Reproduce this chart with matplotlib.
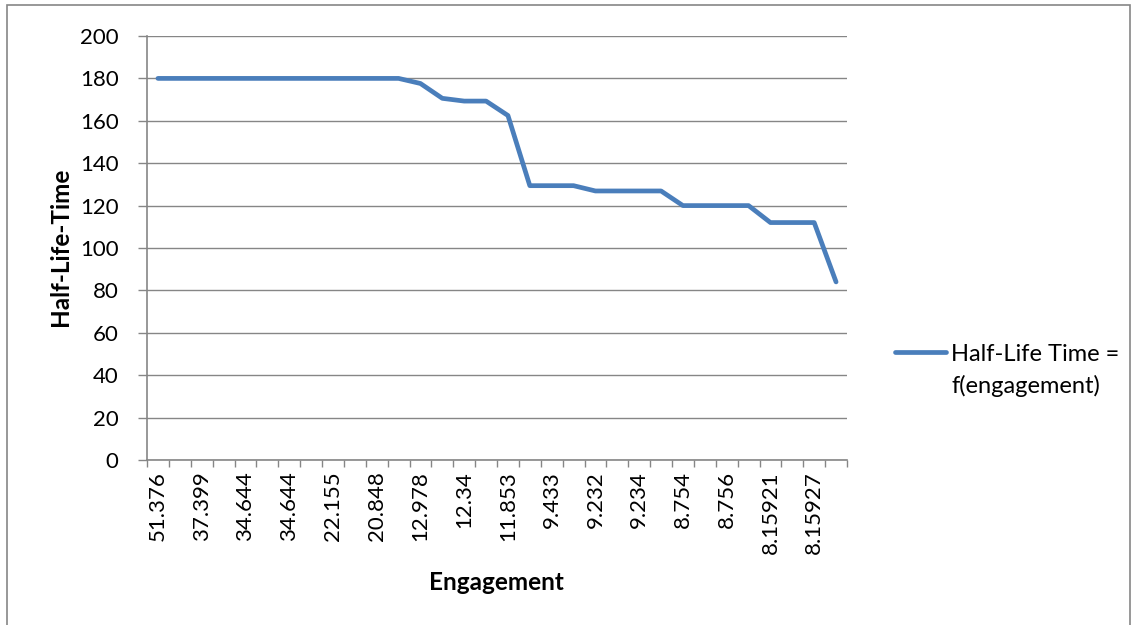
"""
Half-Life Time as a function of engagement, Excel-style line chart.
"""

import matplotlib.pyplot as plt
import numpy as np
from matplotlib.lines import Line2D
from matplotlib.patches import Rectangle

# 32 categories; only every other one is labelled on the axis
tick_labels = ["51.376", "37.399", "34.644", "34.644", "22.155", "20.848", "12.978", "12.34",
               "11.853", "9.433", "9.232", "9.234", "8.754", "8.756", "8.15921", "8.15927"]
half_life = [180, 180, 180, 180, 180, 180, 180, 180, 180, 180, 180, 180,
             177.6, 170.6, 169.3, 169.3, 162.5, 129.4, 129.4, 129.4,
             126.9, 126.9, 126.9, 126.9, 120, 120, 120, 120, 112, 112, 112, 84]
series_name = "Half-Life Time =\nf(engagement)"

GRID = "#868686"
LINE = "#4A7EBB"
FONT = "Lato"

fig = plt.figure(figsize=(11.34, 6.25), dpi=100)
ax = fig.add_axes([147 / 1134, 1 - 460 / 625, 700 / 1134, 424 / 625])

x = np.arange(len(half_life))
ax.plot(x, half_life, color=LINE, lw=3.4, solid_capstyle="round", solid_joinstyle="round")

ax.set_xlim(-0.5, len(half_life) - 0.5)
ax.set_ylim(0, 200)
ax.set_yticks(range(0, 201, 20))
ax.yaxis.grid(True, color=GRID, lw=1)
ax.set_axisbelow(True)

ax.set_xticks(x[::2])
ax.set_xticklabels(tick_labels, rotation=90, fontsize=16, family=FONT)
ax.set_xticks(np.arange(-0.5, len(half_life)), minor=True)
ax.tick_params(axis="x", which="major", length=0, pad=8)
ax.tick_params(axis="x", which="minor", length=5, color=GRID, width=1)
ax.tick_params(axis="y", length=6.5, color=GRID, width=1, pad=14, labelsize=16)
for lab in ax.get_yticklabels():
    lab.set_family(FONT)

for side in ["top", "right"]:
    ax.spines[side].set_visible(False)
for side in ["left", "bottom"]:
    ax.spines[side].set_color(GRID)
    ax.spines[side].set_linewidth(1.2)

fig.text(496 / 1134, 1 - 582 / 625, "Engagement", ha="center", va="center",
         fontsize=17.5, fontweight="bold", family=FONT)
fig.text(60 / 1134, 1 - 247 / 625, "Half-Life-Time", ha="center", va="center",
         rotation=90, fontsize=17.5, fontweight="bold", family=FONT)

# legend drawn by hand like Excel's right-hand legend
fig.add_artist(Line2D([895 / 1134, 946 / 1134], [1 - 352 / 625] * 2, color=LINE, lw=3.4,
                      solid_capstyle="round", transform=fig.transFigure))
for i, line in enumerate(series_name.split("\n")):
    fig.text(951 / 1134, 1 - (355 + 31 * i) / 625, line, ha="left", va="center",
             fontsize=17, family=FONT)

# outer chart border
fig.add_artist(Rectangle((7 / 1134, -0.01), 1 - 11 / 1134, 1 - 5 / 625 + 0.01,
                         transform=fig.transFigure, fill=False, edgecolor=GRID, lw=1.2))

fig.savefig("out.png", dpi=100)
